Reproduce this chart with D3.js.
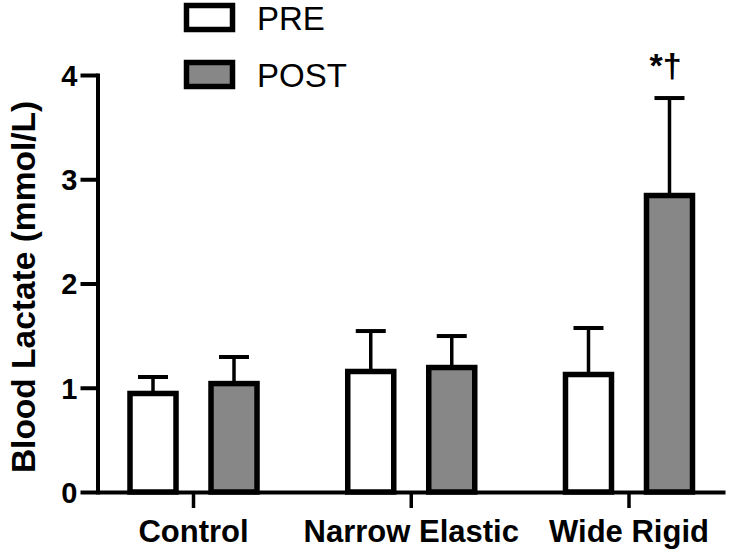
<!DOCTYPE html>
<html>
<head>
<meta charset="utf-8">
<script src="https://cdn.jsdelivr.net/npm/d3@7"></script>
<style>
  html, body { margin: 0; padding: 0; background: #fff; }
  svg { display: block; }
</style>
</head>
<body>
<svg id="chart" width="739" height="558"></svg>
<script>
const categories = ["Control", "Narrow Elastic", "Wide Rigid"];
const series = ["PRE", "POST"];
const preValues = [0.945, 1.156, 1.127];
const preErrors = [0.158, 0.388, 0.446];
const postValues = [1.04, 1.194, 2.844];
const postErrors = [0.255, 0.302, 0.935];
const yTicks = [0, 1, 2, 3, 4];
const annotationText = "*\u2020";
const annotationCategory = "Wide Rigid";
const annotationSeries = "POST";
const yTitle = "Blood Lactate (mmol/L)";

const fills = { PRE: "#ffffff", POST: "#878787" };
const valuesBy = { PRE: preValues, POST: postValues };
const errorsBy = { PRE: preErrors, POST: postErrors };

const data = [];
categories.forEach((c, i) => {
  series.forEach(s => data.push({ cat: c, ser: s, v: valuesBy[s][i], e: errorsBy[s][i] }));
});

const svg = d3.select("#chart");
const font = "'Liberation Sans', Arial, Helvetica, sans-serif";

const y = d3.scaleLinear().domain([0, 4]).range([492, 75]);
const x0 = d3.scaleBand().domain(categories).range([97.5, 725])
  .paddingInner(0.2).paddingOuter(0.0409);
const half = 81;
const x1 = d3.scaleBand().domain(series)
  .range([x0.bandwidth() / 2 - half, x0.bandwidth() / 2 + half])
  .paddingInner(0.432).paddingOuter(0.216);

// Bars
const g = svg.append("g");
const groups = g.selectAll("g.grp").data(data).join("g")
  .attr("transform", d => `translate(${x0(d.cat)},0)`);

groups.append("line")
  .attr("x1", d => x1(d.ser) + x1.bandwidth() / 2)
  .attr("x2", d => x1(d.ser) + x1.bandwidth() / 2)
  .attr("y1", d => y(d.v))
  .attr("y2", d => y(d.v + d.e))
  .attr("stroke", "#000").attr("stroke-width", 3.5);
groups.append("line")
  .attr("x1", d => x1(d.ser) + x1.bandwidth() / 2 - 15)
  .attr("x2", d => x1(d.ser) + x1.bandwidth() / 2 + 15)
  .attr("y1", d => y(d.v + d.e))
  .attr("y2", d => y(d.v + d.e))
  .attr("stroke", "#000").attr("stroke-width", 4);

groups.append("rect")
  .attr("x", d => x1(d.ser))
  .attr("width", x1.bandwidth())
  .attr("y", d => y(d.v))
  .attr("height", d => y(0) - y(d.v))
  .attr("fill", d => fills[d.ser])
  .attr("stroke", "#000")
  .attr("stroke-width", 5.5);

// Y axis
const yAxis = svg.append("g")
  .attr("transform", "translate(97.5,0)")
  .call(d3.axisLeft(y).tickValues(yTicks).tickFormat(d3.format("d"))
    .tickSizeInner(17).tickSizeOuter(0).tickPadding(3));
yAxis.select(".domain").attr("stroke-width", 4).attr("stroke-linecap", "square");
yAxis.selectAll(".tick line").attr("stroke-width", 4);
yAxis.selectAll(".tick text")
  .attr("font-family", font).attr("font-weight", "bold")
  .attr("font-size", 29).attr("fill", "#000").attr("dy", "0.36em");

// X axis
const xAxis = svg.append("g")
  .attr("transform", `translate(0,${y(0)})`)
  .call(d3.axisBottom(x0).tickSizeInner(16).tickSizeOuter(0));
xAxis.select(".domain").attr("stroke-width", 4);
xAxis.selectAll(".tick line").attr("stroke-width", 3.5);
xAxis.selectAll(".tick text")
  .attr("font-family", font).attr("font-weight", "bold")
  .attr("font-size", 31).attr("fill", "#000")
  .attr("y", 50).attr("dy", null);

// Y title
svg.append("text")
  .attr("transform", "translate(35,287) rotate(-90)")
  .attr("text-anchor", "middle")
  .attr("font-family", font).attr("font-weight", "bold")
  .attr("font-size", 33.5).attr("fill", "#000")
  .text(yTitle);

// Annotation
const ann = data.find(d => d.cat === annotationCategory && d.ser === annotationSeries);
svg.append("text")
  .attr("x", x0(ann.cat) + x1(ann.ser) + x1.bandwidth() / 2 - 4)
  .attr("y", y(ann.v + ann.e) - 21)
  .attr("text-anchor", "middle")
  .attr("font-family", font).attr("font-weight", "bold")
  .attr("font-size", 34).attr("fill", "#000")
  .text(annotationText);

// Legend
const legend = svg.append("g");
series.forEach((s, i) => {
  const ly = 5.5 + i * 57;
  legend.append("rect")
    .attr("x", 186.5).attr("y", ly).attr("width", 46).attr("height", 24)
    .attr("fill", fills[s]).attr("stroke", "#000").attr("stroke-width", 5.5);
  legend.append("text")
    .attr("x", 257).attr("y", ly + 24.5)
    .attr("font-family", font).attr("font-size", 33).attr("fill", "#000")
    .text(s);
});
</script>
</body>
</html>
